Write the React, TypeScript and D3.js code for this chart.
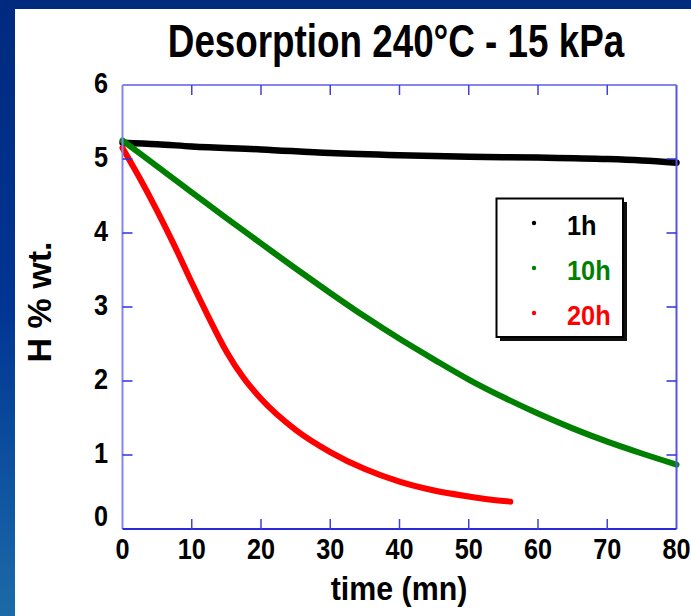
import { useMemo } from 'react';
import * as d3 from 'd3';

// Courbes de désorption (temps en minutes, H en % massique)
const t1h = [0, 5, 10, 20, 30, 40, 50, 60, 70, 75, 80];
const h1h = [5.22, 5.2, 5.17, 5.13, 5.08, 5.05, 5.03, 5.02, 5.0, 4.98, 4.95];

const t10h = [0, 5, 10, 15, 20, 25, 30, 35, 40, 45, 50, 55, 60, 65, 70, 75, 80];
const h10h = [5.25, 4.9, 4.55, 4.2, 3.86, 3.52, 3.19, 2.87, 2.57, 2.29, 2.02, 1.78, 1.56, 1.36, 1.18, 1.02, 0.87];

const t20h = [0, 2.5, 5, 7.5, 10, 12.5, 15, 17.5, 20, 25, 30, 35, 40, 45, 50, 53, 56];
const h20h = [5.15, 4.74, 4.3, 3.83, 3.33, 2.85, 2.4, 2.04, 1.76, 1.34, 1.04, 0.81, 0.64, 0.52, 0.44, 0.4, 0.37];

const seriesNames = ['1h', '10h', '20h'];
const seriesColors = ['#000000', '#008000', '#ff0000'];

const xTicks = [0, 10, 20, 30, 40, 50, 60, 70, 80];
const yTicks = [0, 1, 2, 3, 4, 5, 6];

const W = 691;
const H = 616;
const FONT = 'Arial, "Liberation Sans", Helvetica, sans-serif';

export default function App() {
  const x = d3.scaleLinear().domain([0, 80]).range([122.5, 676.5]);
  const y = d3.scaleLinear().domain([0, 6]).range([529, 85]);

  const paths = useMemo(() => {
    const line = d3.line<[number, number]>()
      .x(d => x(d[0]))
      .y(d => y(d[1]))
      .curve(d3.curveMonotoneX);
    const all = [
      d3.zip(t1h, h1h),
      d3.zip(t10h, h10h),
      d3.zip(t20h, h20h),
    ] as [number, number][][];
    return all.map(d => line(d) || '');
  }, []);

  const x0 = x(0), x1 = x(80), y0 = y(0), y1 = y(6);
  const tickLen = 10;

  return (
    <svg width={W} height={H} style={{ position: 'fixed', left: 0, top: 0, display: 'block' }}
      fontFamily={FONT} fontWeight="bold">
      <defs>
        <linearGradient id="bg" x1="0" y1="0" x2="0" y2="1">
          <stop offset="0" stopColor="#002a7e" />
          <stop offset="0.5" stopColor="#003593" />
          <stop offset="1" stopColor="#1c6aa8" />
        </linearGradient>
      </defs>
      <rect x={0} y={0} width={W} height={H} fill="url(#bg)" />
      <rect x={15} y={9} width={W - 15} height={H - 9} fill="#ffffff" />

      {/* titre */}
      <text transform={`translate(${396},${57}) scale(0.8,1)`} fontSize={46} textAnchor="middle"
        fill="#000">Desorption 240°C - 15 kPa</text>

      {/* courbes */}
      {paths.map((p, i) => (
        <path key={seriesNames[i]} d={p} fill="none" stroke={seriesColors[i]}
          strokeWidth={i === 0 ? 6.5 : 6} strokeLinecap="round" strokeLinejoin="round" />
      ))}

      {/* cadre */}
      <line x1={x0} y1={y1} x2={x1} y2={y1} stroke="#8585f0" strokeWidth={2} />
      <line x1={x0} y1={y1} x2={x0} y2={y0} stroke="#8585f0" strokeWidth={2} />
      <line x1={x1} y1={y1} x2={x1} y2={y0} stroke="#5555e8" strokeWidth={2} />
      <line x1={x0} y1={y0} x2={x1} y2={y0} stroke="#2a2ad8" strokeWidth={2} />

      {/* graduations */}
      {xTicks.slice(1, -1).map(v => (
        <g key={'xt' + v} stroke="#4040dc" strokeWidth={1.5}>
          <line x1={x(v)} x2={x(v)} y1={y0} y2={y0 - tickLen} />
          <line x1={x(v)} x2={x(v)} y1={y1} y2={y1 + tickLen} />
        </g>
      ))}
      {yTicks.slice(1, -1).map(v => (
        <g key={'yt' + v} stroke="#3030d8" strokeWidth={1.5}>
          <line x1={x0} x2={x0 + tickLen} y1={y(v)} y2={y(v)} />
          <line x1={x1} x2={x1 - tickLen} y1={y(v)} y2={y(v)} />
        </g>
      ))}

      {xTicks.map(v => (
        <text key={'xl' + v} transform={`translate(${x(v)},${559}) scale(0.87,1)`}
          textAnchor="middle" fontSize={29} fill="#000">{v}</text>
      ))}
      {yTicks.map(v => (
        <text key={'yl' + v} transform={`translate(${108},${y(v) + (v === 0 ? -3 : 8)}) scale(0.87,1)`}
          textAnchor="end" fontSize={29} fill="#000">{v}</text>
      ))}

      {/* titres des axes */}
      <text transform={`translate(${399},${600}) scale(0.92,1)`} fontSize={33} textAnchor="middle"
        fill="#000">time (mn)</text>
      <text transform={`translate(${51},${302}) rotate(-90)`} fontSize={34}
        textAnchor="middle" fill="#000">H % wt.</text>

      {/* légende */}
      <rect x={500} y={202} width={127} height={139} fill="#111" />
      <rect x={496.5} y={198.5} width={126.5} height={138.5} fill="#fff" stroke="#000" strokeWidth={2} />
      {seriesNames.map((s, i) => (
        <g key={'lg' + s}>
          <circle cx={534} cy={223 + i * 45} r={2.2} fill={seriesColors[i]} />
          <text transform={`translate(${567},${235 + i * 45}) scale(0.94,1)`} fontSize={27}
            fill={seriesColors[i]}>{s}</text>
        </g>
      ))}
    </svg>
  );
}
